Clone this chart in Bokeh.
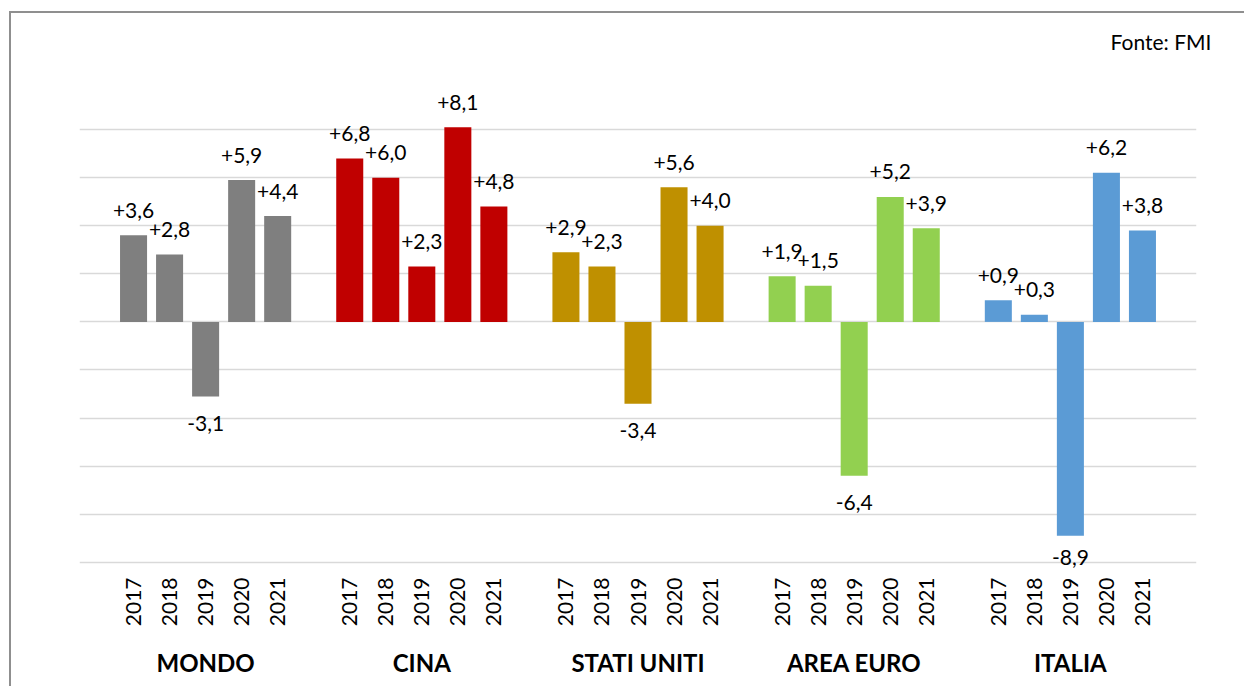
import math
from bokeh.plotting import figure
from bokeh.models import ColumnDataSource, FixedTicker, LinearAxis, Range1d, Title, InlineStyleSheet
from bokeh.embed import file_html
from bokeh.resources import INLINE
from bokeh.core.properties import value

# ---- data ----
groups = ["MONDO", "CINA", "STATI UNITI", "AREA EURO", "ITALIA"]
years = ["2017", "2018", "2019", "2020", "2021"]
mondo = [3.6, 2.8, -3.1, 5.9, 4.4]
cina = [6.8, 6.0, 2.3, 8.1, 4.8]
stati_uniti = [2.9, 2.3, -3.4, 5.6, 4.0]
area_euro = [1.9, 1.5, -6.4, 5.2, 3.9]
italia = [0.9, 0.3, -8.9, 6.2, 3.8]
colors = ["#7f7f7f", "#c00000", "#bf9000", "#92d050", "#5b9bd5"]
y_ticks = list(range(-10, 11, 2))
source_note = "Fonte: FMI"

series = [mondo, cina, stati_uniti, area_euro, italia]

# ---- layout constants ----
W, H = 1244, 686
FONT = "Lato"
FRAME_L, FRAME_R, FRAME_T = 79, 1196, 80
Y_MIN, Y_MAX = -10.3, 10.0
PX_PER_UNIT = 24.1
FRAME_B = FRAME_T + round((Y_MAX - Y_MIN) * PX_PER_UNIT)
NEG_GAP = 27 / PX_PER_UNIT         # label centre below a negative bar
NEG_FLOOR = -10 + 5 / PX_PER_UNIT  # keep labels inside the plot area

# ---- build table ----
slot = len(years) + 1  # one empty category between groups
xs, tops, cols, labels, year_lab = [], [], [], [], []
for g, vals in enumerate(series):
    for j, v in enumerate(vals):
        xs.append(g * slot + j)
        tops.append(v)
        cols.append(colors[g])
        labels.append(f"{v:+.1f}".replace(".", ","))
        year_lab.append(years[j])

src = ColumnDataSource(dict(x=xs, top=tops, color=cols, label=labels))
pos = ColumnDataSource(dict(x=[x for x, t in zip(xs, tops) if t >= 0],
                            y=[t for t in tops if t >= 0],
                            label=[l for l, t in zip(labels, tops) if t >= 0]))
neg = ColumnDataSource(dict(x=[x for x, t in zip(xs, tops) if t < 0],
                            y=[max(t - NEG_GAP, NEG_FLOOR) for t in tops if t < 0],
                            label=[l for l, t in zip(labels, tops) if t < 0]))

x0, x1 = -1.5, len(groups) * slot - 0.5

p = figure(width=W, height=H, x_range=Range1d(x0, x1), y_range=Range1d(Y_MIN, Y_MAX),
           output_backend="svg", toolbar_location=None, y_axis_location=None,
           min_border_left=FRAME_L, min_border_right=W - FRAME_R, min_border_top=FRAME_T,
           min_border_bottom=H - FRAME_B)
p.outline_line_color = None
p.background_fill_color = "white"
p.border_fill_color = "white"

p.xgrid.visible = False
p.ygrid.ticker = FixedTicker(ticks=y_ticks)
p.ygrid.grid_line_color = "#d9d9d9"
p.ygrid.grid_line_width = 1.5

p.vbar(x="x", top="top", bottom=0, width=0.75, fill_color="color", line_color=None, source=src)

p.text(x="x", y="y", text="label", source=pos, text_font=value(FONT), text_font_size="21px",
       text_align="center", text_baseline="middle", y_offset=-25, text_color="black")
p.text(x="x", y="y", text="label", source=neg, text_font=value(FONT), text_font_size="21px",
       text_align="center", text_baseline="middle", text_color="black")

# year axis
ax = p.xaxis[0]
ax.ticker = FixedTicker(ticks=xs)
ax.major_label_overrides = {x: y for x, y in zip(xs, year_lab)}
ax.major_label_orientation = math.pi / 2
ax.axis_line_color = None
ax.major_tick_line_color = None
ax.minor_tick_line_color = None
ax.major_tick_out = 0
ax.major_tick_in = 0
ax.minor_tick_out = 0
ax.major_label_standoff = 8
ax.major_label_text_font = FONT
ax.major_label_text_font_size = "21px"
ax.major_label_text_color = "black"

# group axis
centers = [g * slot + (len(years) - 1) / 2 for g in range(len(groups))]
gax = LinearAxis(ticker=FixedTicker(ticks=centers),
                 major_label_overrides={c: n for c, n in zip(centers, groups)})
gax.axis_line_color = None
gax.major_tick_line_color = None
gax.minor_tick_line_color = None
gax.major_tick_out = 0
gax.major_tick_in = 0
gax.minor_tick_out = 0
gax.major_label_standoff = 18
gax.major_label_text_font = FONT
gax.major_label_text_font_size = "24px"
gax.major_label_text_font_style = "bold"
gax.major_label_text_color = "black"
p.add_layout(gax, "below")

# source note
note = Title(text=source_note, align="right", vertical_align="middle", offset=-15, standoff=54,
             text_font=FONT, text_font_size="21px", text_font_style="normal",
             text_color="black")
p.add_layout(note, "above")

# chart border (left/top edges visible, right/bottom off-screen)
p.stylesheets.append(InlineStyleSheet(css=(
    ":host { position: relative; }"
    ":host::after { content: ''; position: absolute; left: 9px; top: 11px; right: 0; bottom: 0;"
    " border-left: 2px solid #8f8f8f; border-top: 2px solid #8f8f8f;"
    " pointer-events: none; z-index: 10; }"
)))

open("out.html", "w").write(file_html(p, INLINE))
